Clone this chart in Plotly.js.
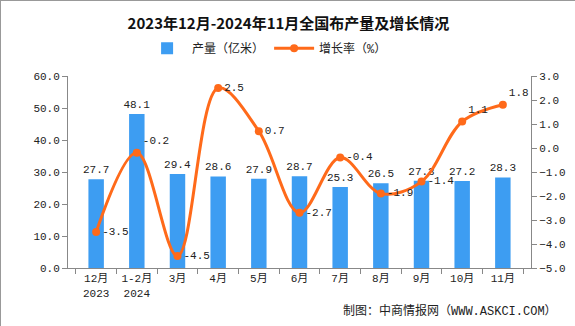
<!DOCTYPE html>
<html><head><meta charset="utf-8">
<script src="https://cdn.plot.ly/plotly-3.0.1.min.js"></script>
<style>html,body{margin:0;padding:0;background:#fff}#c{width:575px;height:326px;box-sizing:border-box;border:1px solid #999}</style>
</head><body><div id="c"></div>
<script>
const categories = ["12月<br>2023","1-2月<br>2024","3月","4月","5月","6月","7月","8月","9月","10月","11月"];
const output = [27.7,48.1,29.4,28.6,27.9,28.7,25.3,26.5,27.3,27.2,28.3];
const growth = [-3.5,-0.2,-4.5,2.5,0.7,-2.7,-0.4,-1.9,-1.4,1.1,1.8];
const growthPos = ["middle right","top right","middle right","middle right","middle right","middle right","middle right","middle right","middle right","top right","top right"];
const F = "SimSun, 'Liberation Mono', 'Noto Sans CJK SC', monospace";
const traces = [
 {type:"bar", x:categories, y:output, name:"产量（亿米）", marker:{color:"#3D9DF2"}, width:0.38,
  text:output.map(v=>v.toFixed(1)), textposition:"outside", cliponaxis:false, constraintext:"none",
  textfont:{family:F,size:11,color:"#222"}, hoverinfo:"none"},
 {type:"scatter", mode:"lines+markers+text", x:categories, y:growth, yaxis:"y2", name:"增长率（%）",
  line:{color:"#FF6A1A",width:3,shape:"spline",smoothing:1}, marker:{color:"#FF6A1A",size:8},
  text:growth.map(v=>v.toFixed(1)), textposition:growthPos, cliponaxis:false,
  textfont:{family:F,size:11,color:"#222"}, hoverinfo:"none"}
];
const layout = {
 width:575, height:326, margin:{l:67,r:45,t:75,b:59},
 paper_bgcolor:"#fff", plot_bgcolor:"#fff", bargap:0.62,
 font:{family:F,size:11,color:"#222"},
 title:{text:"<b>2023年12月-2024年11月全国布产量及增长情况</b>", x:0.5, xanchor:"center", y:0.93, yanchor:"middle",
  font:{family:"'Noto Sans CJK SC', sans-serif",size:15,color:"#111"}},
 showlegend:true,
 legend:{orientation:"h", x:0.43, xanchor:"center", y:1.145, yanchor:"middle", font:{family:F,size:12,color:"#222"}, itemwidth:40, traceorder:"normal"},
 xaxis:{showline:true, linecolor:"#888", ticks:"outside", tickcolor:"#888", ticklen:5, showgrid:false,
  tickfont:{family:F,size:11,color:"#222"}, tickson:"boundaries", fixedrange:true},
 yaxis:{range:[0,60], dtick:10, tickformat:".1f", showgrid:false, showline:true, linecolor:"#888",
  ticks:"outside", tickcolor:"#888", ticklen:5, zeroline:false, tickfont:{family:F,size:11,color:"#222"}},
 yaxis2:{range:[-5,3], dtick:1, tickformat:".1f", overlaying:"y", side:"right", showgrid:false, showline:true,
  linecolor:"#888", ticks:"outside", tickcolor:"#888", ticklen:5, zeroline:false, tickfont:{family:F,size:11,color:"#222"}},
 annotations:[{text:"制图：中商情报网（WWW.ASKCI.COM）", xref:"paper", yref:"paper", x:1.06, y:-0.17, xanchor:"right", yanchor:"top",
  showarrow:false, font:{family:F,size:12,color:"#222"}}]
};
Plotly.newPlot("c", traces, layout, {displayModeBar:false, staticPlot:true});
</script></body></html>
